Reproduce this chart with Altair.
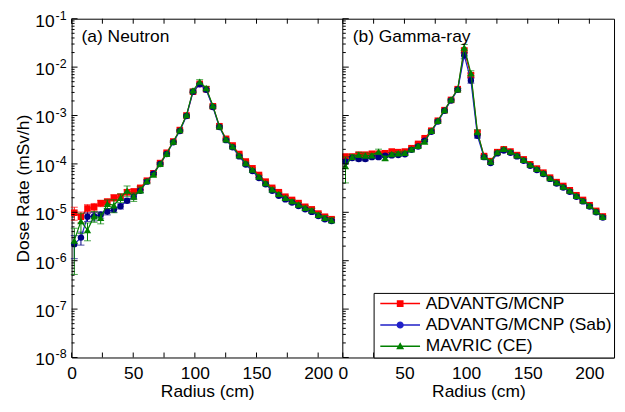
import altair as alt
import pandas as pd

# ---------------- data ----------------
RADIUS = [2.2, 7.6, 12.9, 18.3, 23.6, 29.0, 34.3, 39.7, 45.0, 50.4,
          55.7, 61.1, 66.4, 71.8, 77.1, 82.5, 87.8, 93.2, 98.5, 103.9,
          109.2, 114.6, 119.9, 125.3, 130.6, 136.0, 141.3, 146.7, 152.0, 157.4,
          162.7, 168.1, 173.4, 178.8, 184.1, 189.5, 194.8, 200.2, 205.5, 210.9]

SERIES = ["ADVANTG/MCNP", "ADVANTG/MCNP (Sab)", "MAVRIC (CE)"]

# (a) Neutron
N_ADV = [9.8e-6, 8.1e-6, 1.2e-5, 1.27e-5, 1.54e-5, 1.65e-5, 2.0e-5, 2.1e-5, 2.6e-5, 2.7e-5,
         3.2e-5, 4.5e-5, 6.4e-5, 1.04e-4, 1.7e-4, 2.9e-4, 5.0e-4, 1.0e-3, 3.1e-3, 4.5e-3,
         3.5e-3, 1.55e-3, 6.0e-4, 3.3e-4, 2.4e-4, 1.6e-4, 1.12e-4, 8.1e-5, 5.9e-5, 4.3e-5,
         3.2e-5, 2.6e-5, 2.1e-5, 1.8e-5, 1.55e-5, 1.3e-5, 1.15e-5, 9.4e-6, 8.1e-6, 7.2e-6]
N_SAB = [2.2e-6, 3.0e-6, 8.1e-6, 8.3e-6, 8.9e-6, 1.04e-5, 1.14e-5, 1.33e-5, 1.74e-5, 2.1e-5,
         2.8e-5, 4.3e-5, 6.3e-5, 1.0e-4, 1.6e-4, 2.8e-4, 4.8e-4, 9.8e-4, 3.1e-3, 4.4e-3,
         3.4e-3, 1.5e-3, 5.8e-4, 3.1e-4, 2.2e-4, 1.43e-4, 9.7e-5, 7.1e-5, 5.1e-5, 3.8e-5,
         2.8e-5, 2.2e-5, 1.85e-5, 1.6e-5, 1.35e-5, 1.15e-5, 1.02e-5, 8.4e-6, 7.2e-6, 6.6e-6]
N_MAV = [2.6e-6, 6.6e-6, 4.3e-6, 8.3e-6, 7.7e-6, 1.5e-5, 1.4e-5, 2.0e-5, 2.8e-5, 2.1e-5,
         2.9e-5, 4.4e-5, 6.0e-5, 1.0e-4, 1.62e-4, 2.9e-4, 5.0e-4, 1.02e-3, 3.3e-3, 5.0e-3,
         3.7e-3, 1.6e-3, 6.0e-4, 3.2e-4, 2.3e-4, 1.5e-4, 1.04e-4, 7.6e-5, 5.5e-5, 4.0e-5,
         3.0e-5, 2.4e-5, 2.0e-5, 1.7e-5, 1.45e-5, 1.24e-5, 1.1e-5, 8.9e-6, 7.7e-6, 6.9e-6]
N_ADV_ERR = [0.3, 0.25, 0.2, 0.2, 0.15, 0.15, 0.15, 0.12, 0.12, 0.1,
             0.08, 0.06, 0.05, 0.04, 0.04, 0.03, 0.03, 0.03, 0.04, 0.05,
             0.05, 0.04, 0.04, 0.04, 0.04, 0.04, 0.04, 0.04, 0.04, 0.04,
             0.05, 0.05, 0.05, 0.05, 0.05, 0.06, 0.06, 0.06, 0.07, 0.07]
N_SAB_ERR = [0.5, 0.3, 0.2, 0.2, 0.15, 0.15, 0.12, 0.12, 0.1, 0.1,
             0.08, 0.06, 0.05, 0.04, 0.04, 0.03, 0.03, 0.03, 0.04, 0.05,
             0.05, 0.04, 0.04, 0.04, 0.04, 0.04, 0.04, 0.04, 0.04, 0.04,
             0.05, 0.05, 0.05, 0.05, 0.05, 0.06, 0.06, 0.06, 0.07, 0.07]
N_MAV_ERR = [0.8, 0.45, 0.4, 0.25, 0.25, 0.2, 0.3, 0.2, 0.25, 0.2,
             0.15, 0.08, 0.06, 0.05, 0.05, 0.04, 0.04, 0.04, 0.06, 0.1,
             0.08, 0.05, 0.05, 0.05, 0.05, 0.05, 0.05, 0.05, 0.06, 0.06,
             0.07, 0.07, 0.08, 0.08, 0.09, 0.09, 0.1, 0.1, 0.12, 0.12]

# (b) Gamma-ray
G_ADV = [1.42e-4, 1.42e-4, 1.55e-4, 1.55e-4, 1.62e-4, 1.62e-4, 1.66e-4, 1.80e-4, 1.75e-4, 1.80e-4,
         2.11e-4, 2.59e-4, 3.39e-4, 4.85e-4, 7.8e-4, 1.29e-3, 2.1e-3, 3.5e-3, 2.2e-2, 6.8e-3,
         4.4e-4, 1.45e-4, 1.14e-4, 1.75e-4, 2.0e-4, 1.8e-4, 1.52e-4, 1.24e-4, 9.8e-5, 8.0e-5,
         6.6e-5, 5.2e-5, 4.2e-5, 3.5e-5, 2.85e-5, 2.25e-5, 1.8e-5, 1.4e-5, 1.07e-5, 8.2e-6]
G_SAB = [1.12e-4, 1.32e-4, 1.26e-4, 1.26e-4, 1.38e-4, 1.38e-4, 1.47e-4, 1.50e-4, 1.52e-4, 1.58e-4,
         1.95e-4, 2.28e-4, 3.03e-4, 4.62e-4, 7.5e-4, 1.25e-3, 2.05e-3, 3.4e-3, 1.75e-2, 5.3e-3,
         3.8e-4, 1.38e-4, 1.04e-4, 1.65e-4, 1.9e-4, 1.7e-4, 1.43e-4, 1.16e-4, 9.2e-5, 7.5e-5,
         6.2e-5, 4.9e-5, 3.95e-5, 3.25e-5, 2.65e-5, 2.1e-5, 1.68e-5, 1.32e-5, 1.0e-5, 7.8e-6]
G_MAV = [9.0e-5, 1.40e-4, 1.55e-4, 1.50e-4, 1.50e-4, 1.8e-4, 1.32e-4, 1.6e-4, 1.66e-4, 1.7e-4,
         2.01e-4, 2.35e-4, 2.88e-4, 4.85e-4, 7.8e-4, 1.29e-3, 2.14e-3, 3.48e-3, 2.55e-2, 7.5e-3,
         4.6e-4, 1.42e-4, 1.12e-4, 1.75e-4, 2.05e-4, 1.8e-4, 1.5e-4, 1.22e-4, 9.7e-5, 7.9e-5,
         6.5e-5, 5.1e-5, 4.15e-5, 3.4e-5, 2.8e-5, 2.2e-5, 1.75e-5, 1.38e-5, 1.05e-5, 8.1e-6]
G_ADV_ERR = [0.08, 0.06, 0.06, 0.06, 0.06, 0.06, 0.06, 0.06, 0.05, 0.05,
             0.05, 0.05, 0.05, 0.05, 0.04, 0.04, 0.04, 0.05, 0.12, 0.1,
             0.08, 0.05, 0.05, 0.05, 0.04, 0.04, 0.04, 0.04, 0.04, 0.04,
             0.04, 0.04, 0.04, 0.04, 0.04, 0.04, 0.05, 0.05, 0.05, 0.05]
G_SAB_ERR = [0.1, 0.08, 0.08, 0.08, 0.07, 0.07, 0.07, 0.06, 0.06, 0.06,
             0.05, 0.05, 0.05, 0.05, 0.04, 0.04, 0.04, 0.05, 0.15, 0.12,
             0.1, 0.05, 0.05, 0.05, 0.04, 0.04, 0.04, 0.04, 0.04, 0.04,
             0.04, 0.04, 0.04, 0.04, 0.04, 0.04, 0.05, 0.05, 0.05, 0.05]
G_MAV_ERR = [0.55, 0.12, 0.12, 0.12, 0.1, 0.12, 0.1, 0.08, 0.08, 0.08,
             0.06, 0.06, 0.06, 0.05, 0.05, 0.04, 0.04, 0.05, 0.15, 0.12,
             0.1, 0.06, 0.06, 0.05, 0.05, 0.05, 0.05, 0.05, 0.05, 0.05,
             0.05, 0.05, 0.05, 0.05, 0.05, 0.05, 0.05, 0.05, 0.05, 0.05]

# ticks / labels
X_TICKS = [0, 25, 50, 75, 100, 125, 150, 175, 200]
X_LABELS = [0, 50, 100, 150, 200]
Y_DECADES = [1e-8, 1e-7, 1e-6, 1e-5, 1e-4, 1e-3, 1e-2, 1e-1]
Y_EXPONENTS = ["-8", "-7", "-6", "-5", "-4", "-3", "-2", "-1"]
Y_MINOR = [m * 10.0 ** e for e in range(-8, -1) for m in range(2, 10)]
PANEL_LABELS = ["(a) Neutron", "(b) Gamma-ray"]

# ---------------- style ----------------
LINE_COLORS = ["#FF0000", "#2020C8", "#008000"]
MARK_COLORS = ["#FF0000", "#000080", "#008000"]
ERR_COLORS = ["#FF0000", "#000080", "#008000"]
SHAPES = ["square", "circle", "triangle-up"]
SIZES = [44, 42, 54]
LEGEND_PATHS = [
    "M-1,-0.19H9V0.19H-1Z M3.15,-0.85H4.85V0.85H3.15Z",
    "M-1,-0.19H9V0.19H-1Z M4.9,0A0.9,0.9 0 1,1 3.1,0A0.9,0.9 0 1,1 4.9,0Z",
    "M-1,-0.19H9V0.19H-1Z M4,-1.05L5,0.75H3Z",
]
W, H = 273, 341
FONT = "Liberation Sans"
FS = 17.5

ys = alt.Scale(type="log", domain=[1e-8, 1e-1], nice=False)
YAXIS = alt.Axis(title="Dose Rate (mSv/h)", labels=False, ticks=False,
                 domain=False, grid=False, titlePadding=39)


def frame(vals, errs, name):
    return pd.DataFrame({
        "r": RADIUS,
        "v": vals,
        "lo": [v * (1 - e) for v, e in zip(vals, errs)],
        "hi": [v * (1 + e) for v, e in zip(vals, errs)],
        "series": name,
    })


def panel(dfs, idx, legend):
    x0 = idx * W
    xs = alt.Scale(domain=[0, 220], range=[x0, x0 + W], nice=False, zero=False)
    xaxis = alt.Axis(values=X_LABELS, title="Radius (cm)", orient="bottom",
                     ticks=False, domain=False, grid=False, labelFlush=False,
                     labelOverlap=False, labelPadding=7, titlePadding=1, format="d")

    def X(f):
        return alt.X(f, scale=xs, axis=xaxis)

    def Y(f):
        return alt.Y(f, scale=ys, axis=YAXIS)

    layers = []
    for k, df in enumerate(dfs):
        base = alt.Chart(df)
        layers.append(base.mark_rule(color=ERR_COLORS[k], strokeWidth=1).encode(
            x=X("r:Q"), y=Y("lo:Q"), y2="hi:Q"))
        for f in ("lo:Q", "hi:Q"):
            layers.append(base.mark_tick(orient="horizontal", size=7, thickness=1,
                                         color=ERR_COLORS[k]).encode(x=X("r:Q"), y=Y(f)))
        layers.append(base.mark_line(color=LINE_COLORS[k], strokeWidth=1.2).encode(
            x=X("r:Q"), y=Y("v:Q")))
        layers.append(base.mark_point(shape=SHAPES[k], filled=True, size=SIZES[k],
                                      color=MARK_COLORS[k], opacity=1).encode(
            x=X("r:Q"), y=Y("v:Q")))

    # inward ticks
    xt = alt.Chart(pd.DataFrame({"t": X_TICKS}))
    yt = alt.Chart(pd.DataFrame({"t": Y_DECADES}))
    ym = alt.Chart(pd.DataFrame({"t": Y_MINOR}))
    rule = dict(color="black", strokeWidth=1)
    layers += [
        xt.mark_rule(**rule).encode(x=X("t:Q"), y=alt.value(H), y2=alt.value(H - 5)),
        xt.mark_rule(**rule).encode(x=X("t:Q"), y=alt.value(0), y2=alt.value(5)),
        yt.mark_rule(**rule).encode(y=Y("t:Q"), x=alt.value(x0), x2=alt.value(x0 + 6)),
        ym.mark_rule(**rule).encode(y=Y("t:Q"), x=alt.value(x0), x2=alt.value(x0 + 3)),
    ]
    if idx == 1:
        # panel divider (left frame of panel b)
        layers.append(xt.transform_filter("datum.t == 0").mark_rule(**rule).encode(
            x=X("t:Q"), y=alt.value(0), y2=alt.value(H)))

    layers.append(alt.Chart(pd.DataFrame({"t": [PANEL_LABELS[idx]]})).mark_text(
        align="left", baseline="middle", font=FONT, fontSize=FS, color="black").encode(
        text="t:N", x=alt.value(x0 + 10), y=alt.value(18)))

    if idx == 0:
        dec = alt.Chart(pd.DataFrame({"v": Y_DECADES, "b": ["10"] * len(Y_DECADES),
                                      "e": Y_EXPONENTS}))
        layers.append(dec.mark_text(align="right", baseline="middle", font=FONT,
                                    fontSize=FS, dy=3, color="black").encode(
            y=Y("v:Q"), x=alt.value(-17), text="b:N"))
        layers.append(dec.mark_text(align="right", baseline="middle", font=FONT,
                                    fontSize=12.5, dy=-3, color="black").encode(
            y=Y("v:Q"), x=alt.value(-5), text="e:N"))

    if legend:
        alldf = pd.concat(dfs, ignore_index=True)
        leg = alt.Legend(title=None, orient="bottom-right", offset=0,
                         strokeColor="black", fillColor="white", padding=2,
                         labelFont=FONT, labelFontSize=FS, labelColor="black",
                         labelLimit=400, symbolSize=64, symbolStrokeWidth=0,
                         symbolOpacity=1, labelOffset=33, rowPadding=2.5,
                         cornerRadius=0)
        # invisible carrier layer for the legend (tiny, fully transparent)
        layers.append(alt.Chart(alldf).mark_point(filled=True, opacity=0, size=1).encode(
            x=X("r:Q"), y=Y("v:Q"),
            fill=alt.Fill("series:N", scale=alt.Scale(domain=SERIES, range=LINE_COLORS),
                          legend=leg),
            shape=alt.Shape("series:N", scale=alt.Scale(domain=SERIES, range=LEGEND_PATHS),
                            legend=leg),
        ))

    return alt.layer(*layers)


neutron = [frame(N_ADV, N_ADV_ERR, SERIES[0]), frame(N_SAB, N_SAB_ERR, SERIES[1]),
           frame(N_MAV, N_MAV_ERR, SERIES[2])]
gamma = [frame(G_ADV, G_ADV_ERR, SERIES[0]), frame(G_SAB, G_SAB_ERR, SERIES[1]),
         frame(G_MAV, G_MAV_ERR, SERIES[2])]

left = panel(neutron, 0, False)
right = panel(gamma, 1, True)

chart = alt.layer(left, right).resolve_scale(x="independent").properties(
    width=2 * W, height=H,
    autosize=alt.AutoSizeParams(type="none"),
    padding={"left": 64, "top": 9.5, "right": 3, "bottom": 43},
    background="white",
).configure_view(stroke="black", strokeWidth=1).configure_axis(
    labelFont=FONT, titleFont=FONT, labelFontSize=FS, titleFontSize=FS,
    labelColor="black", titleColor="black", titleFontWeight="normal",
)

chart.save("out.html", embed_options={"renderer": "svg", "actions": False})
